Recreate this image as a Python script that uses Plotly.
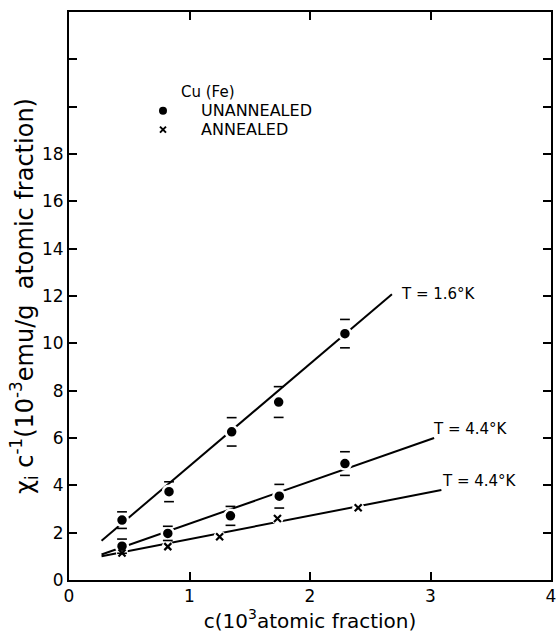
import plotly.graph_objects as go

# ---- data ----
c_un = [0.44, 0.83, 1.35, 1.74, 2.29]
chi_un_16 = [2.53, 3.73, 6.26, 7.52, 10.41]
err_un_16 = [0.35, 0.42, 0.60, 0.65, 0.60]

c_un44 = [0.44, 0.82, 1.34, 1.745, 2.29]
chi_un_44 = [1.43, 1.97, 2.71, 3.54, 4.92]
err_un_44 = [0.30, 0.30, 0.40, 0.50, 0.50]

c_an = [0.44, 0.82, 1.25, 1.73, 2.40]
chi_an_44 = [1.14, 1.41, 1.83, 2.60, 3.05]

fit16_x = [0.27, 2.68]
fit16_y = [1.66, 12.07]
fit44u_x = [0.27, 3.03]
fit44u_y = [1.08, 6.00]
fit44a_x = [0.27, 3.09]
fit44a_y = [1.00, 3.80]

x_ticks = [0, 1, 2, 3, 4]
y_ticks = [0, 2, 4, 6, 8, 10, 12, 14, 16, 18, 20, 22]
y_ticktext = ["0", "2", "4", "6", "8", "10", "12", "14", "16", "18", "", ""]

FONT = "DejaVu Sans"
BLACK = "black"

fig = go.Figure()

# fitted lines
for fx, fy in [(fit16_x, fit16_y), (fit44u_x, fit44u_y), (fit44a_x, fit44a_y)]:
    fig.add_trace(go.Scatter(x=fx, y=fy, mode="lines",
                             line=dict(color=BLACK, width=2), hoverinfo="skip"))

# white halos so lines break around points
fig.add_trace(go.Scatter(x=c_an, y=chi_an_44, mode="markers",
                         marker=dict(symbol="circle", size=12, color="white"),
                         hoverinfo="skip"))

# unannealed points (dots) with white outline
for cx, cy in [(c_un, chi_un_16), (c_un44, chi_un_44)]:
    fig.add_trace(go.Scatter(x=cx, y=cy, mode="markers",
                             marker=dict(symbol="circle", size=12, color=BLACK,
                                         line=dict(color="white", width=2.5))))

# annealed points (x)
fig.add_trace(go.Scatter(x=c_an, y=chi_an_44, mode="markers",
                         marker=dict(symbol="x-thin", size=7,
                                     line=dict(color=BLACK, width=2.2))))

# error bar caps only (short horizontal dashes)
for cx, cy, ce in [(c_un, chi_un_16, err_un_16), (c_un44, chi_un_44, err_un_44)]:
    ys = [v + e for v, e in zip(cy, ce)] + [v - e for v, e in zip(cy, ce)]
    xs = list(cx) + list(cx)
    fig.add_trace(go.Scatter(x=xs, y=ys, mode="markers",
                             marker=dict(symbol="line-ew", size=7,
                                         line=dict(color=BLACK, width=1.6))))

# legend symbols
fig.add_trace(go.Scatter(x=[0.78], y=[19.83], mode="markers",
                         marker=dict(symbol="circle", size=8, color=BLACK)))
fig.add_trace(go.Scatter(x=[0.78], y=[19.03], mode="markers",
                         marker=dict(symbol="x-thin", size=6,
                                     line=dict(color=BLACK, width=2))))

ann = [
    dict(x=0.91, y=20.6, text="Cu (Fe)", size=15),
    dict(x=1.08, y=19.83, text="UNANNEALED", size=16),
    dict(x=1.08, y=19.03, text="ANNEALED", size=16),
    dict(x=2.74, y=12.1, text="T = 1.6°K", size=15),
    dict(x=3.00, y=6.4, text="T = 4.4°K", size=15),
    dict(x=3.08, y=4.18, text="T = 4.4°K", size=15),
]
for a in ann:
    fig.add_annotation(x=a["x"], y=a["y"], text=a["text"], showarrow=False,
                       xanchor="left", yanchor="middle", align="left",
                       font=dict(family=FONT, size=a["size"], color=BLACK))

axis_common = dict(showline=True, linecolor=BLACK, linewidth=2, mirror="ticks",
                   ticks="inside", ticklen=8, tickwidth=2, tickcolor=BLACK,
                   showgrid=False, zeroline=False, ticklabeloverflow="allow",
                   tickfont=dict(family=FONT, size=17, color=BLACK))

fig.update_layout(
    width=558, height=634,
    margin=dict(l=69, r=2, t=12, b=54),
    paper_bgcolor="white", plot_bgcolor="white",
    showlegend=False,
    xaxis=dict(range=[0, 4], tickvals=x_ticks,
               title=dict(text="c(10<sup>3</sup>atomic fraction)", standoff=0,
                          font=dict(family=FONT, size=20, color=BLACK)),
               **axis_common),
    yaxis=dict(range=[0, 24], tickvals=y_ticks, ticktext=y_ticktext,
               title=dict(text="χ<sub>i</sub> c<sup>-1</sup>(10<sup>-3</sup>emu/g  atomic fraction)",
                          standoff=2,
                          font=dict(family=FONT, size=24, color=BLACK)),
               **axis_common),
)

fig.write_html("out.html")
